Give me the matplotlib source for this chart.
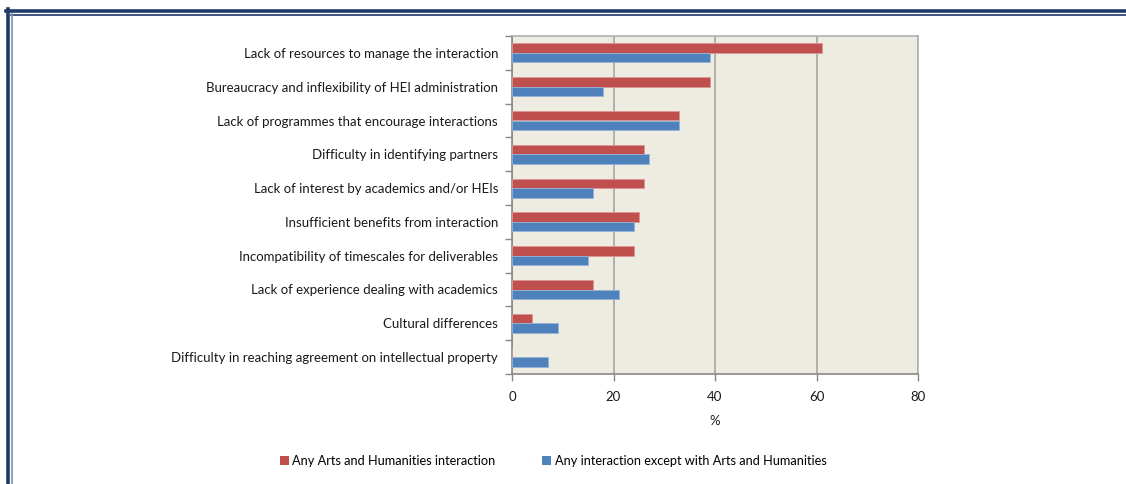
import matplotlib
matplotlib.use("Agg")
import matplotlib.pyplot as plt
from matplotlib.lines import Line2D
from matplotlib.patches import Patch
import numpy as np

categories = [
    "Lack of resources to manage the interaction",
    "Bureaucracy and inflexibility of HEI administration",
    "Lack of programmes that encourage interactions",
    "Difficulty in identifying partners",
    "Lack of interest by academics and/or HEIs",
    "Insufficient benefits from interaction",
    "Incompatibility of timescales for deliverables",
    "Lack of experience dealing with academics",
    "Cultural differences",
    "Difficulty in reaching agreement on intellectual property",
]
arts_humanities = [61, 39, 33, 26, 26, 25, 24, 16, 4, 0]
other_interaction = [39, 18, 33, 27, 16, 24, 15, 21, 9, 7]
series_names = ["Any Arts and Humanities interaction",
                "Any interaction except with Arts and Humanities"]
x_ticks = [0, 20, 40, 60, 80]

RED = "#C0504D"
BLUE = "#4F81BD"
BG = "#EEEBE0"

plt.rcParams["font.family"] = ["Lato", "DejaVu Sans"]

fig = plt.figure(figsize=(11.26, 4.84), dpi=100)
W, H = 1126, 484
ax = fig.add_axes([512 / W, 1 - 374 / H, 406 / W, (374 - 36) / H])
ax.set_facecolor(BG)

n = len(categories)
y = np.arange(n)
h = 0.28
ax.barh(y - h / 2, arts_humanities, height=h, color=RED,
        edgecolor="#D99795", linewidth=0.6, zorder=3)
ax.barh(y + h / 2, other_interaction, height=h, color=BLUE,
        edgecolor="#95B3D7", linewidth=0.6, zorder=3)

ax.set_ylim(n - 0.5, -0.5)
ax.set_xlim(0, 80)
ax.set_xticks(x_ticks)
ax.set_yticks(y)
ax.set_yticklabels(categories, fontsize=9.5, color="#1a1a1a")
ax.set_yticks(np.arange(n + 1) - 0.5, minor=True)
ax.tick_params(axis="y", which="major", length=0, pad=10)
ax.tick_params(axis="y", which="minor", length=5, color="#888888", width=1)
ax.tick_params(axis="x", length=5, color="#888888", width=1, pad=7,
               labelsize=9.5, labelcolor="#1a1a1a")
ax.xaxis.grid(True, color="#A6A6A6", linewidth=1.2, zorder=1)
ax.set_axisbelow(True)
for side in ["top", "right"]:
    ax.spines[side].set_color("#B0B0B0")
    ax.spines[side].set_linewidth(1.2)
for side in ["left", "bottom"]:
    ax.spines[side].set_color("#888888")
    ax.spines[side].set_linewidth(1.2)
ax.set_xlabel("%", fontsize=9.5, labelpad=9, color="#1a1a1a")

handles = [Patch(facecolor=RED, edgecolor="none"),
           Patch(facecolor=BLUE, edgecolor="none")]
fig.legend(handles, series_names, loc="center", bbox_to_anchor=(553 / W, 1 - 461 / H),
           ncol=2, frameon=False, fontsize=9.2, handlelength=0.7, handleheight=0.7,
           handletextpad=0.3, columnspacing=3.6)

# double page border along the top and left edges
fig.add_artist(Line2D([6 / W, 1], [1 - 10.5 / H] * 2, color="#1F3A6B", linewidth=2.6))
fig.add_artist(Line2D([11 / W, 1], [1 - 15 / H] * 2, color="#1F3A6B", linewidth=1.2))
fig.add_artist(Line2D([7.8 / W] * 2, [0, 1 - 9 / H], color="#1F3A6B", linewidth=2.6))
fig.add_artist(Line2D([11.8 / W] * 2, [0, 1 - 14 / H], color="#8090A8", linewidth=1.2))

fig.savefig("out.png", dpi=100, facecolor="white")
